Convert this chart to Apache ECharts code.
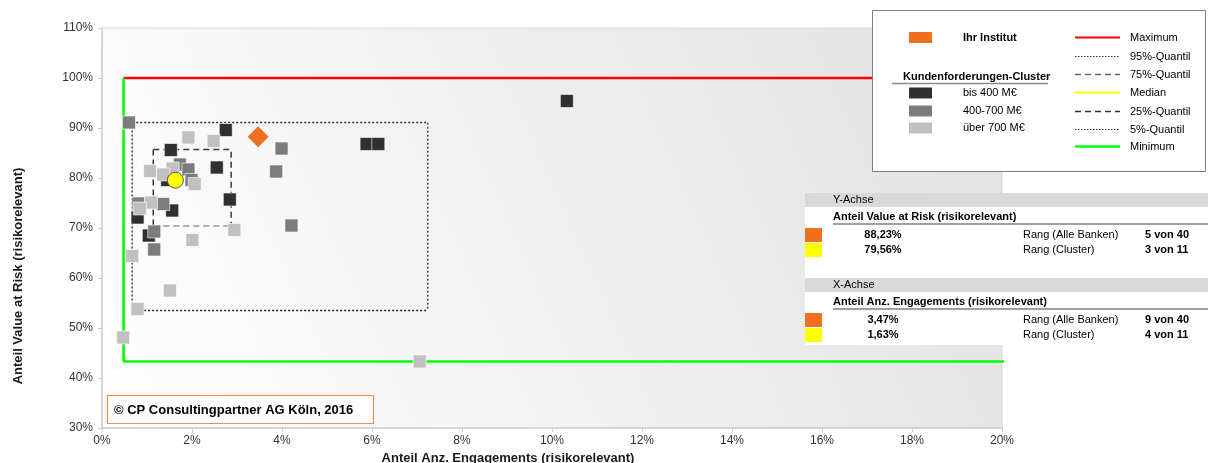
<!DOCTYPE html>
<html>
<head>
<meta charset="utf-8">
<script src="https://cdn.jsdelivr.net/npm/echarts@6/dist/echarts.min.js"></script>
<style>
html,body{margin:0;padding:0;background:#fff;}
#chart{width:1208px;height:463px;}
</style>
</head>
<body>
<div id="chart"></div>
<script>
// ---- data (percent values) ----
const clusterSmall = [[2.75,89.6],[1.53,85.6],[2.55,82.1],[1.45,79.6],[2.84,75.7],[0.79,72.1],[1.56,73.5],[1.04,68.5],[10.33,95.4],[5.88,86.8],[6.14,86.8]];
const clusterMid = [[0.60,91.1],[3.99,85.9],[1.73,82.7],[1.92,81.7],[3.87,81.3],[1.99,79.6],[1.36,74.8],[0.81,74.9],[4.21,70.5],[1.16,69.3],[1.16,65.7]];
const clusterLarge = [[1.92,88.1],[2.48,87.4],[1.57,81.9],[1.07,81.4],[1.36,80.7],[2.06,78.8],[1.09,75.1],[0.84,73.9],[2.94,69.6],[2.01,67.6],[0.67,64.4],[1.51,57.5],[0.79,53.8],[0.47,48.1],[7.06,43.3]];
const institute = [[3.47, 88.23]];
const clusterMedian = [[1.63, 79.56]];
// min, 5%, 25%, 75%, 95%, max  (x max lies beyond the visible axis)
const xQuantiles = [0.48, 0.67, 1.14, 2.87, 7.24, 21];
const yQuantiles = [43.3, 53.5, 70.4, 85.7, 91.1, 100];

const xTicks = [0, 20, 2];
const yTicks = [30, 110, 10];

const clusterLabels = ['bis 400 M€', '400-700 M€', 'über 700 M€'];
const lineLabels = ['Maximum', '95%-Quantil', '75%-Quantil', 'Median', '25%-Quantil', '5%-Quantil', 'Minimum'];
const yAxisRows = [['88,23%', 'Rang (Alle Banken)', '5 von 40'], ['79,56%', 'Rang (Cluster)', '3 von 11']];
const xAxisRows = [['3,47%', 'Rang (Alle Banken)', '9 von 40'], ['1,63%', 'Rang (Cluster)', '4 von 11']];
const xTitle = 'Anteil Anz. Engagements (risikorelevant)';
const yTitle = 'Anteil Value at Risk (risikorelevant)';
const yTableTitle = 'Anteil Value at Risk (risikorelevant)';
const xTableTitle = 'Anteil Anz. Engagements (risikorelevant)';
const copyright = '© CP Consultingpartner AG Köln, 2016';

// ---- styles ----
const FONT = '"Liberation Sans", Arial, sans-serif';
const C_DARK = '#303030', C_MID = '#7c7c7c', C_LIGHT = '#c0c0c0', C_ORANGE = '#f26f1f', C_YELLOW = '#ffff00';

const [xMin, x5, x25, x75, x95, xMax] = xQuantiles;
const [yMin, y5, y25, y75, y95, yMax] = yQuantiles;

function lineSeries(name, pts, color, width, type, z) {
  return {
    name, type: 'line', data: pts, symbol: 'none', silent: true, animation: false,
    lineStyle: { color, width, type }, z: z || 2, clip: true
  };
}
function sq(name, data, color) {
  return {
    name, type: 'scatter', data, symbol: 'rect', symbolSize: 13, animation: false,
    itemStyle: { color, opacity: 1, borderColor: 'rgba(255,255,255,0.6)', borderWidth: 1 }, z: 5
  };
}

const series = [
  lineSeries('Maximum', [[xMin, yMax], [xMax, yMax], [xMax, yMin]], '#ff0000', 2.5, 'solid', 3),
  lineSeries('Minimum', [[xMin, yMax], [xMin, yMin], [xMax, yMin]], '#00ff00', 2.5, 'solid', 3),
  lineSeries('95%-Quantil', [[x5, y95], [x95, y95], [x95, y5]], '#333333', 1.3, [2, 2]),
  lineSeries('5%-Quantil', [[x5, y95], [x5, y5], [x95, y5]], '#222222', 1.3, [2, 2]),
  lineSeries('75%-Quantil', [[x25, y75], [x75, y75], [x75, y25]], '#3a3a3a', 1.5, [6, 4]),
  lineSeries('25%-Quantil', [[x25, y75], [x25, y25]], '#333333', 1.5, [6, 4]),
  lineSeries('25%-Quantil b', [[x25, y25], [x75, y25]], '#999999', 1.5, [6, 4]),
  sq(clusterLabels[0], clusterSmall, C_DARK),
  sq(clusterLabels[1], clusterMid, C_MID),
  sq(clusterLabels[2], clusterLarge, C_LIGHT),
  { name: 'Ihr Institut', type: 'scatter', data: institute, symbol: 'diamond', symbolSize: 21, animation: false,
    itemStyle: { color: C_ORANGE, opacity: 1 }, z: 6 },
  { name: 'Median', type: 'scatter', data: clusterMedian, symbol: 'circle', symbolSize: 16, animation: false,
    itemStyle: { color: C_YELLOW, opacity: 1, borderColor: '#555', borderWidth: 1 }, z: 7 }
];

// ---- graphic: legend box, table, titles, copyright ----
const g = [];
function txt(x, y, text, opt) {
  opt = opt || {};
  g.push({ type: 'text', x, y, z: 100, rotation: opt.rot || 0, silent: true,
    style: { text, fill: opt.fill || '#000', font: (opt.bold ? 'bold ' : '') + (opt.size || 11) + 'px ' + FONT,
      align: opt.align || 'left', verticalAlign: 'middle' } });
}
function rect(x, y, w, h, fill, stroke, lw) {
  g.push({ type: 'rect', z: 90, silent: true, shape: { x, y, width: w, height: h },
    style: { fill: fill || 'none', stroke: stroke || null, lineWidth: lw || 0 } });
}
function ln(x1, y1, x2, y2, stroke, lw, dash) {
  g.push({ type: 'line', z: 95, silent: true, shape: { x1, y1, x2, y2 },
    style: { stroke, lineWidth: lw, lineDash: dash || null } });
}

// legend box
rect(872.5, 10.5, 333, 161, '#ffffff', '#808080', 1);
rect(909, 32, 23, 11, C_ORANGE);
txt(963, 38, 'Ihr Institut', { bold: true });
txt(903, 77, 'Kundenforderungen-Cluster', { bold: true });
ln(892, 83.5, 1048, 83.5, '#8c8c8c', 1.5);
const clColors = [C_DARK, C_MID, C_LIGHT];
const clY = [93, 111, 128];
clusterLabels.forEach((l, i) => { rect(909, clY[i] - 5.5, 23, 11, clColors[i]); txt(963, clY[i], l); });
const lnStyles = [['#ff0000', 2, null], ['#333', 1.2, [1.5, 1.5]], ['#666', 1.5, [6, 4]], ['#ffff00', 2, null],
                  ['#333', 1.5, [6, 4]], ['#333', 1.2, [1.5, 1.5]], ['#00ff00', 2.5, null]];
const lnY = [37.5, 56.5, 74.5, 92.5, 111.5, 129.5, 146.5];
lineLabels.forEach((l, i) => { ln(1075, lnY[i], 1120, lnY[i], lnStyles[i][0], lnStyles[i][1], lnStyles[i][2]); txt(1130, lnY[i], l); });

// table
rect(805, 193, 403, 152, '#ffffff');
function block(top, head, title, rows) {
  rect(805, top, 403, 14, '#d9d9d9');
  txt(833, top + 7, head, {});
  txt(833, top + 24, title, { bold: true });
  ln(833, top + 31, 1208, top + 31, '#808080', 1.5);
  rows.forEach((r, i) => {
    const cy = top + 42 + i * 15;
    rect(805, cy - 7, 17, 14, i === 0 ? C_ORANGE : C_YELLOW);
    txt(883, cy, r[0], { bold: true, align: 'center' });
    txt(1023, cy, r[1], {});
    txt(1145, cy, r[2], { bold: true });
  });
}
block(193, 'Y-Achse', yTableTitle, yAxisRows);
block(278, 'X-Achse', xTableTitle, xAxisRows);

// copyright
rect(107.5, 395.5, 266, 28, '#ffffff', '#f08c5a', 1.2);
txt(114, 410, copyright, { bold: true, size: 13 });

// axis titles
txt(508, 458, xTitle, { bold: true, size: 13, align: 'center', fill: '#1a1a1a' });
txt(18, 276, yTitle, { bold: true, size: 13, align: 'center', rot: Math.PI / 2, fill: '#1a1a1a' });

const chart = echarts.init(document.getElementById('chart'), null, { renderer: 'canvas' });
chart.setOption({
  animation: false,
  grid: {
    left: 102, right: 206, top: 28, bottom: 35, containLabel: false, outerBoundsMode: 'none',
    show: true, borderColor: '#d6d6d6', borderWidth: 1,
    backgroundColor: { type: 'linear', x: 0, y: 1, x2: 1, y2: 0,
      colorStops: [{ offset: 0, color: '#ffffff' }, { offset: 0.55, color: '#eeeeee' }, { offset: 1, color: '#e1e1e1' }] }
  },
  xAxis: {
    type: 'value', min: xTicks[0], max: xTicks[1], interval: xTicks[2],
    axisLine: { show: true, lineStyle: { color: '#cfcfcf', width: 1.5 } },
    axisTick: { show: true, length: 4, lineStyle: { color: '#cfcfcf' } },
    splitLine: { show: false },
    axisLabel: { formatter: '{value}%', color: '#333', fontSize: 12, fontFamily: FONT, margin: 7 }
  },
  yAxis: {
    type: 'value', min: yTicks[0], max: yTicks[1], interval: yTicks[2],
    axisLine: { show: true, lineStyle: { color: '#cfcfcf', width: 1.5 } },
    axisTick: { show: true, length: 4, lineStyle: { color: '#cfcfcf' } },
    splitLine: { show: false },
    axisLabel: { formatter: '{value}%', color: '#333', fontSize: 12, fontFamily: FONT, margin: 9 }
  },
  series,
  graphic: { elements: g }
});
</script>
</body>
</html>
